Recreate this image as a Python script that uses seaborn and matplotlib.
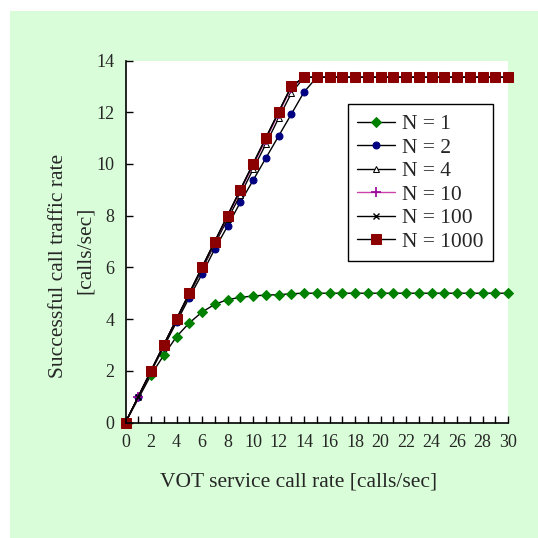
import numpy as np
import pandas as pd
import seaborn as sns
import matplotlib
matplotlib.use("Agg")
import matplotlib.pyplot as plt
from matplotlib.patches import Rectangle

# ---- data ----
x_all = list(range(0, 31))
x_no1 = [0] + list(range(2, 31))

n1 = [0, 1.84, 2.60, 3.32, 3.85, 4.27, 4.57, 4.75, 4.84, 4.89, 4.93, 4.94, 4.98] + [5.0] * 17
n2 = [0, 0.99, 1.96, 2.92, 3.88, 4.83, 5.74, 6.71, 7.59, 8.51, 9.36, 10.22, 11.07, 11.92, 12.78] + [13.35] * 16
n4 = [0, 1.99, 2.98, 3.96, 4.94, 5.92, 6.90, 7.86, 8.79, 9.79, 10.76, 11.76, 12.73] + [13.35] * 17
n10 = [0, 1.0, 2.0, 3.0, 4.0, 4.99, 5.98, 6.97, 7.96, 8.95, 9.94, 10.93, 11.94, 12.94] + [13.35] * 17
n100 = [0, 1.0, 2.0, 3.0, 4.0, 5.0, 6.0, 7.0, 8.0, 9.0, 10.0, 11.0, 12.0, 13.0] + [13.35] * 17
n1000 = [0, 2.0, 3.0, 4.0, 5.0, 6.0, 7.0, 8.0, 9.0, 10.0, 11.0, 12.0, 13.0] + [13.35] * 17

labels = ["N = 1", "N = 2", "N = 4", "N = 10", "N = 100", "N = 1000"]
xticks = list(range(0, 31, 2))
yticks = list(range(0, 15, 2))

sns.set_style("ticks")
plt.rcParams['font.family'] = ['Liberation Serif', 'DejaVu Serif']

W = 538.0
fig = plt.figure(figsize=(5.38, 5.38), dpi=100)
fig.patch.set_facecolor("white")
fig.patches.append(Rectangle((10 / W, 0), 1 - 10 / W, 1 - 11 / W,
                             transform=fig.transFigure, facecolor="#d9fdd9",
                             edgecolor="none", zorder=-10))
ax = fig.add_axes([125.5 / W, 1 - 422.5 / W, (508 - 125.5) / W, (422.5 - 60.5) / W])
ax.set_facecolor("white")

styles = [
    (x_no1, n1, dict(marker="D", markersize=5, markerfacecolor="#008000", markeredgecolor="#008000", color="black")),
    (x_all, n2, dict(marker="o", markersize=5, markerfacecolor="#000080", markeredgecolor="#000080", color="black")),
    (x_no1, n4, dict(marker="^", markersize=5, markerfacecolor="white", markeredgecolor="black", color="black")),
    (x_all, n10, dict(marker="+", markersize=7, markeredgecolor="#990099", markeredgewidth=1.2, color="#cc44aa")),
    (x_all, n100, dict(marker="x", markersize=5, markeredgecolor="black", markeredgewidth=1.0, color="black")),
    (x_no1, n1000, dict(marker="s", markersize=7.5, markerfacecolor="#8b0000", markeredgecolor="#8b0000", color="black")),
]

for (xs, ys, st), lab in zip(styles, labels):
    sns.lineplot(x=xs, y=ys, ax=ax, label=lab, linewidth=1.0, clip_on=False, **st)

ax.set_xlim(0, 30)
ax.set_ylim(0, 14)
ax.set_xticks(xticks)
ax.set_xticks(range(0, 31), minor=True)
ax.set_yticks(yticks)
ax.tick_params(axis="both", which="both", direction="in", labelsize=13, color="black", width=1)
ax.tick_params(axis="x", which="major", length=5, pad=8)
ax.tick_params(axis="x", which="minor", length=5)
ax.tick_params(axis="y", which="major", length=5, pad=8)
for s in ["top", "right"]:
    ax.spines[s].set_visible(False)
for s in ["left", "bottom"]:
    ax.spines[s].set_color("black")
    ax.spines[s].set_linewidth(1.2)

ax.set_xlabel("")
ax.set_ylabel("")
fig.text(298.5 / W, 1 - 482 / W, "VOT service call rate [calls/sec]", fontsize=15.5,
         ha="center", va="center")
fig.text(59 / W, 1 - 266 / W, "Successful call traffic rate", fontsize=15.5,
         ha="center", va="center", rotation=90)
fig.text(85 / W, 1 - 250 / W, "[calls/sec]", fontsize=15.5,
         ha="center", va="center", rotation=90)

leg = ax.legend(loc="upper left", bbox_to_anchor=(0.581, 0.879), fontsize=15.5,
                frameon=True, fancybox=False, edgecolor="black", framealpha=1,
                labelspacing=0.16, handlelength=1.75, handletextpad=0.3, borderpad=0.45,
                borderaxespad=0)
leg.get_frame().set_linewidth(1.0)

fig.savefig("out.png", dpi=100)
